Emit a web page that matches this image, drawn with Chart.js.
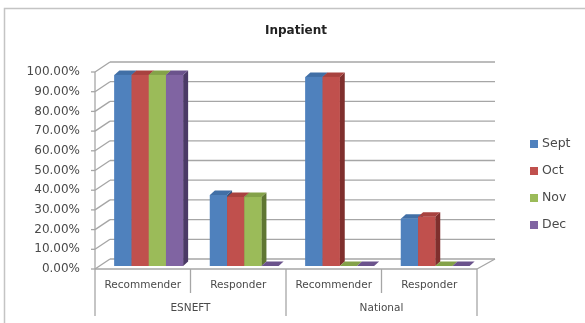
<!DOCTYPE html>
<html>
<head>
<meta charset="utf-8">
<script src="https://cdn.jsdelivr.net/npm/chart.js@4.4.1/dist/chart.umd.min.js"></script>
<style>
  html, body { margin: 0; padding: 0; background: #ffffff; }
  canvas { display: block; }
</style>
</head>
<body>
<canvas id="chart" width="585" height="323"></canvas>
<script>
// Inpatient survey results, percentages by month
const categories = ['Recommender', 'Responder', 'Recommender', 'Responder'];
const groups = ['ESNEFT', 'National'];
const seriesNames = ['Sept', 'Oct', 'Nov', 'Dec'];
const sept = [97, 36, 96, 24];
const oct  = [97, 35, 96, 25];
const nov  = [97, 35, 0, 0];
const dec  = [97, 0, 0, 0];
const seriesValues = [sept, oct, nov, dec];

const faceColors = ['#4f81bd', '#c0504d', '#9bbb59', '#8064a2'];
const topColors  = ['#416fa6', '#a8423f', '#84a249', '#6b538c'];
const sideColors = ['#2f527d', '#7f2f2d', '#5f7632', '#4b3a66'];

const textColor = '#4a4a4a';
const gridColor = '#a6a6a6';

// Oblique projection offsets relative to the plane the bars are drawn in
const FX = -6, FY = 3;      // front edge of the walls/floor
const BX = 9, BY = -7;      // back wall (left end)
const BXR = 12;             // back wall right end
const DX = 5, DY = -4.5;    // depth of each column

Chart.defaults.font.family = 'DejaVu Sans';

function line(ctx, x1, y1, x2, y2) {
  ctx.beginPath();
  ctx.moveTo(x1, y1);
  ctx.lineTo(x2, y2);
  ctx.stroke();
}
function poly(ctx, pts, color) {
  ctx.beginPath();
  ctx.moveTo(pts[0][0], pts[0][1]);
  for (let k = 1; k < pts.length; k++) ctx.lineTo(pts[k][0], pts[k][1]);
  ctx.closePath();
  ctx.fillStyle = color;
  ctx.fill();
}

const excel3d = {
  id: 'excel3d',
  beforeDraw(chart) {
    const ctx = chart.ctx;
    ctx.save();
    ctx.fillStyle = '#ffffff';
    ctx.fillRect(0, 0, chart.width, chart.height);
    ctx.strokeStyle = '#c4c4c4';
    ctx.lineWidth = 1.5;
    ctx.strokeRect(4.5, 8.5, chart.width + 20, chart.height + 20);
    ctx.restore();
  },
  beforeDatasetsDraw(chart) {
    const { ctx, chartArea: a, scales: { x, y } } = chart;
    ctx.save();
    ctx.strokeStyle = gridColor;
    ctx.lineWidth = 1.3;
    const y0 = y.getPixelForValue(0);
    const yTop = y.getPixelForValue(y.max);
    y.ticks.forEach(t => {
      const py = y.getPixelForValue(t.value);
      line(ctx, a.left + FX - 4, py + FY, a.left + FX, py + FY);
      line(ctx, a.left + FX, py + FY, a.left + BX, py + BY);
      line(ctx, a.left + BX, py + BY, a.right + BXR, py + BY);
    });
    line(ctx, a.left + FX, yTop + FY, a.left + FX, y0 + FY);
    line(ctx, a.left + FX, y0 + FY, a.right + FX, y0 + FY);
    line(ctx, a.right + FX, y0 + FY, a.right + BXR, y0 + BY);
    // category / group dividers under the floor
    const n = x.ticks.length;
    const cw = (a.right - a.left) / n;
    for (let i = 0; i <= n; i++) {
      const xx = a.left + i * cw + FX;
      const len = i % 2 === 0 ? 47 : 24;
      line(ctx, xx, y0 + FY, xx, y0 + FY + len);
    }
    ctx.restore();
  },
  afterDatasetsDraw(chart) {
    const ctx = chart.ctx;
    const metas = chart.getSortedVisibleDatasetMetas();
    ctx.save();
    for (let j = 0; j < categories.length; j++) {
      metas.forEach(meta => {
        const i = meta.index;
        const el = meta.data[j];
        const p = el.getProps(['x', 'y', 'base', 'width'], true);
        const l = p.x - p.width / 2, r = p.x + p.width / 2;
        const top = Math.min(p.y, p.base), bot = Math.max(p.y, p.base);
        poly(ctx, [[r, top], [r + DX, top + DY], [r + DX, bot + DY], [r, bot]], sideColors[i]);
        poly(ctx, [[l, top], [l + DX, top + DY], [r + DX, top + DY], [r, top]], topColors[i]);
        ctx.fillStyle = faceColors[i];
        ctx.fillRect(l, top, p.width, bot - top);
      });
    }
    ctx.restore();
  },
  afterDraw(chart) {
    const ctx = chart.ctx;
    ctx.save();
    ctx.font = '12.5px "DejaVu Sans"';
    ctx.textBaseline = 'middle';
    ctx.textAlign = 'left';
    chart.data.datasets.forEach((ds, i) => {
      const cy = 144 + i * 27;
      ctx.fillStyle = ds.backgroundColor;
      ctx.fillRect(530, cy - 4, 8, 8);
      ctx.fillStyle = textColor;
      ctx.fillText(ds.label, 542, cy);
    });
    ctx.restore();
  }
};

new Chart(document.getElementById('chart'), {
  type: 'bar',
  data: {
    labels: categories,
    datasets: seriesNames.map((name, i) => ({
      label: name,
      data: seriesValues[i],
      backgroundColor: faceColors[i],
      borderWidth: 0,
      categoryPercentage: 0.72,
      barPercentage: 1
    }))
  },
  options: {
    responsive: false,
    animation: false,
    layout: { padding: { left: 7, right: 0, top: 0, bottom: 3 } },
    plugins: {
      legend: { display: false },
      tooltip: { enabled: false },
      title: {
        display: true,
        text: 'Inpatient',
        color: '#222222',
        font: { family: 'DejaVu Sans', size: 12, weight: 'bold', lineHeight: 1.2 },
        padding: { top: 23.5, bottom: 31.1 }
      }
    },
    scales: {
      y: {
        min: 0,
        max: 100,
        grid: { display: false, drawTicks: false },
        border: { display: false },
        ticks: {
          stepSize: 10,
          padding: 21,
          labelOffset: 3,
          color: textColor,
          font: { size: 12 },
          callback: v => v.toFixed(2) + '%'
        },
        afterFit(s) { s.width = 94; }
      },
      x: {
        grid: { display: false, drawTicks: false },
        border: { display: false },
        ticks: { padding: 12.7, labelOffset: -6, color: textColor, font: { size: 10.5 }, autoSkip: false, maxRotation: 0 },
        afterFit(s) { s.height = 30; }
      },
      x2: {
        type: 'category',
        labels: groups,
        position: 'bottom',
        grid: { display: false, drawTicks: false },
        border: { display: false },
        ticks: { padding: 5.7, labelOffset: -6, color: textColor, font: { size: 10.5 }, autoSkip: false, maxRotation: 0 },
        afterFit(s) { s.height = 24; }
      },
      yR: {
        type: 'linear',
        position: 'right',
        display: true,
        grid: { display: false, drawTicks: false },
        border: { display: false },
        ticks: { display: false },
        afterFit(s) { s.width = 102; }
      }
    }
  },
  plugins: [excel3d]
});
</script>
</body>
</html>
